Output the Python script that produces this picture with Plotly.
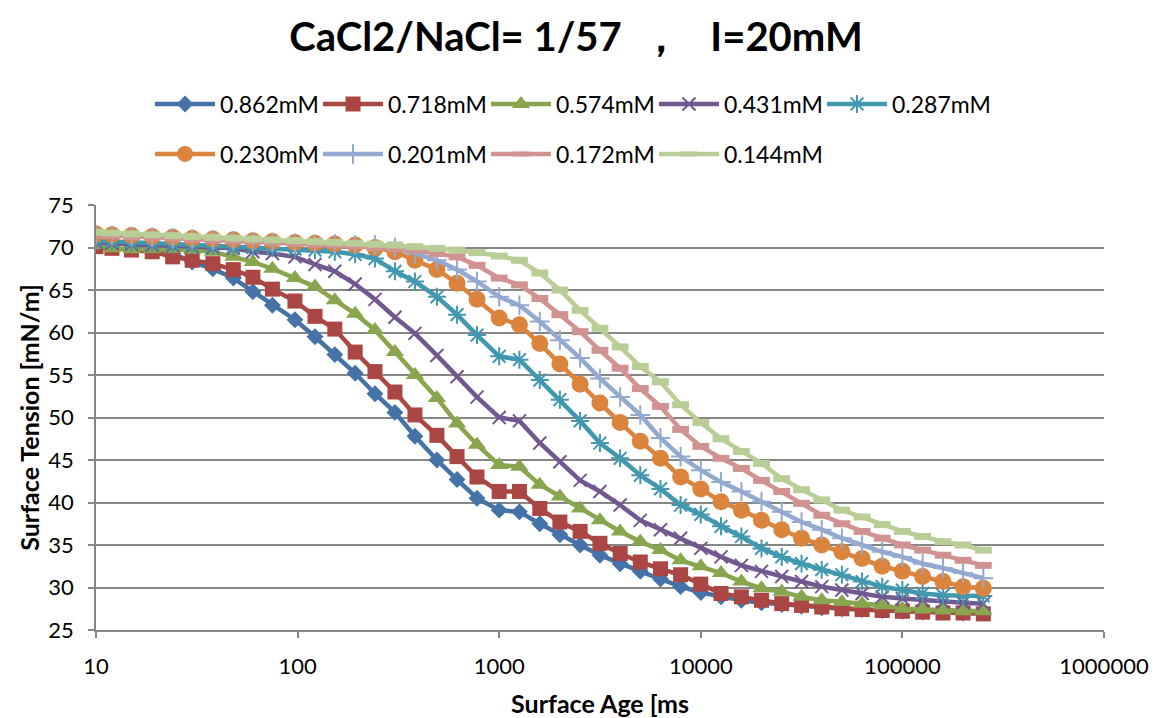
import plotly.graph_objects as go

# Surface age [ms], shared by all series
surface_age = [10, 12, 15, 19, 24, 30, 38, 48, 60, 75,
               97, 122, 153, 193, 242, 304, 382, 491, 618, 776,
               1000, 1260, 1590, 2000, 2520, 3160, 3980, 5010, 6310, 7940,
               10000, 12600, 15900, 20000, 25200, 31600, 39800, 50100, 63100, 79400,
               100000, 126000, 159000, 200000, 252000]

# Surface tension [mN/m] for each surfactant concentration
st_0862 = [70.8, 70.6, 70.4, 70.0, 69.3, 68.3, 67.5, 66.4, 64.8, 63.2,
           61.5, 59.5, 57.4, 55.2, 52.8, 50.6, 47.8, 45.0, 42.7, 40.5,
           39.1, 38.9, 37.5, 36.2, 35.0, 33.8, 32.8, 31.9, 31.0, 30.1,
           29.4, 28.9, 28.5, 28.2, 28.0, 27.8, 27.6, 27.5, 27.4, 27.3,
           27.2, 27.1, 27.1, 27.0, 27.0]
st_0718 = [70.1, 69.9, 69.7, 69.5, 68.9, 68.5, 68.1, 67.4, 66.5, 65.1,
           63.7, 61.9, 60.4, 57.7, 55.4, 53.0, 50.3, 47.9, 45.4, 43.0,
           41.3, 41.3, 39.3, 37.7, 36.6, 35.2, 34.0, 33.0, 32.2, 31.5,
           30.4, 29.3, 28.9, 28.5, 28.1, 27.9, 27.7, 27.5, 27.4, 27.3,
           27.2, 27.1, 27.0, 27.0, 26.9]
st_0574 = [70.3, 69.9, 69.8, 69.8, 69.8, 69.7, 69.5, 68.9, 68.3, 67.5,
           66.4, 65.4, 63.8, 62.2, 60.3, 57.7, 55.0, 52.3, 49.3, 46.8,
           44.4, 44.2, 42.1, 40.7, 39.3, 37.9, 36.6, 35.4, 34.4, 33.2,
           32.5, 31.7, 30.7, 29.9, 29.5, 28.9, 28.5, 28.3, 28.1, 27.9,
           27.5, 27.4, 27.3, 27.2, 27.2]
st_0431 = [70.6, 70.5, 70.4, 70.3, 70.2, 70.1, 70.0, 69.9, 69.5, 69.3,
           68.9, 68.0, 67.2, 65.7, 63.9, 61.8, 59.9, 57.3, 54.8, 52.4,
           50.0, 49.6, 47.0, 44.8, 42.6, 41.3, 39.7, 37.9, 36.8, 35.8,
           34.6, 33.6, 32.6, 31.9, 31.3, 30.7, 30.1, 29.7, 29.3, 28.9,
           28.7, 28.5, 28.3, 28.2, 28.1]
st_0287 = [70.8, 70.7, 70.6, 70.5, 70.4, 70.3, 70.2, 70.1, 70.0, 69.9,
           69.8, 69.7, 69.5, 69.2, 68.7, 67.2, 66.0, 64.2, 62.1, 59.7,
           57.2, 56.8, 54.4, 52.1, 49.6, 47.0, 45.2, 43.2, 41.6, 39.7,
           38.6, 37.2, 36.0, 34.6, 33.6, 32.8, 32.1, 31.5, 30.7, 30.1,
           29.7, 29.3, 29.1, 29.0, 29.0]
st_0230 = [71.6, 71.5, 71.4, 71.3, 71.2, 71.1, 71.0, 70.9, 70.8, 70.7,
           70.6, 70.5, 70.4, 70.3, 70.0, 69.5, 68.5, 67.4, 65.8, 63.9,
           61.7, 60.9, 58.7, 56.3, 53.9, 51.7, 49.4, 47.2, 45.2, 43.0,
           41.6, 40.1, 39.1, 37.9, 36.8, 35.8, 35.0, 34.2, 33.4, 32.5,
           31.9, 31.3, 30.7, 30.1, 29.9]
st_0201 = [71.5, 71.4, 71.3, 71.2, 71.1, 71.0, 70.9, 70.8, 70.7, 70.6,
           70.5, 70.4, 70.4, 70.3, 70.3, 70.0, 69.3, 68.5, 67.4, 66.0,
           64.2, 63.2, 61.3, 59.1, 57.0, 54.6, 52.4, 50.3, 47.6, 45.4,
           43.8, 42.4, 41.3, 40.1, 38.9, 37.7, 36.8, 35.8, 35.0, 34.2,
           33.6, 32.8, 32.3, 31.7, 31.1]
st_0172 = [71.5, 71.4, 71.3, 71.2, 71.1, 71.0, 70.9, 70.8, 70.7, 70.6,
           70.5, 70.4, 70.3, 70.2, 70.0, 69.9, 69.7, 69.3, 68.9, 67.9,
           66.4, 65.6, 64.0, 62.1, 60.1, 57.9, 55.8, 53.4, 51.3, 48.6,
           46.6, 45.2, 44.0, 42.6, 41.3, 39.9, 38.5, 37.5, 36.6, 35.8,
           35.0, 34.4, 33.8, 33.2, 32.6]
st_0144 = [71.8, 71.7, 71.6, 71.5, 71.4, 71.3, 71.2, 71.1, 71.0, 70.9,
           70.8, 70.7, 70.6, 70.5, 70.4, 70.3, 70.1, 69.9, 69.7, 69.4,
           69.0, 68.5, 67.0, 65.0, 62.6, 60.5, 58.3, 56.0, 54.2, 51.5,
           49.4, 47.5, 46.0, 44.6, 42.8, 41.5, 40.3, 39.1, 38.3, 37.4,
           36.6, 36.0, 35.4, 35.0, 34.4]

series_names = ["0.862mM", "0.718mM", "0.574mM", "0.431mM", "0.287mM",
                "0.230mM", "0.201mM", "0.172mM", "0.144mM"]
series_values = [st_0862, st_0718, st_0574, st_0431, st_0287,
                 st_0230, st_0201, st_0172, st_0144]

x_tick_values = [10, 100, 1000, 10000, 100000, 1000000]
x_tick_labels = ["10", "100", "1000", "10000", "100000", "1000000"]
y_tick_values = [25, 30, 35, 40, 45, 50, 55, 60, 65, 70, 75]

colors = ["#4572A7", "#AA4643", "#89A54E", "#71588F", "#4198AF",
          "#DB843D", "#93A9CF", "#D19392", "#B9CD96"]
# (symbol, size, outline width) per series
markers = [("diamond", 13, 0), ("square", 15, 0), ("triangle-up", 16, 0),
           ("x-thin", 13, 2), ("asterisk", 15, 2), ("circle", 17, 0),
           ("cross-thin", 14, 2), ("line-ew", 12, 7), ("line-ew", 12, 7)]

FONT = "Lato"

fig = go.Figure()
for i, (name, vals) in enumerate(zip(series_names, series_values)):
    sym, size, lw = markers[i]
    fig.add_trace(go.Scatter(
        x=surface_age, y=vals, name=name, mode="lines+markers",
        line=dict(color=colors[i], width=4.5),
        marker=dict(symbol=sym, size=size, color=colors[i],
                    line=dict(color=colors[i], width=lw)),
        legend="legend" if i < 5 else "legend2",
    ))

legend_style = dict(orientation="h", xref="container", yref="container",
                    x=150 / 1159, xanchor="left", yanchor="middle",
                    entrywidth=93, entrywidthmode="pixels", itemwidth=60,
                    font=dict(family=FONT, size=23, color="black"),
                    bgcolor="rgba(0,0,0,0)")

axis_grey = "#868686"
fig.update_layout(
    width=1159, height=718,
    margin=dict(l=96, r=55, t=205, b=88),
    paper_bgcolor="white", plot_bgcolor="white",
    font=dict(family=FONT, color="black", size=20),
    title=dict(text="<b>CaCl2/NaCl= 1/57 \u00a0\uff0c\u00a0\u00a0 I=20mM</b>",
               font=dict(family=FONT, size=40, color="black"),
               x=0.497, xanchor="center", xref="container",
               y=1 - 37 / 718, yanchor="middle", yref="container"),
    legend=dict(legend_style, y=1 - 104 / 718),
    legend2=dict(legend_style, y=1 - 154 / 718),
    xaxis=dict(type="log", range=[1, 6], automargin=False,
               tickvals=x_tick_values, ticktext=x_tick_labels,
               showgrid=False, showline=True, linecolor=axis_grey, linewidth=1.6,
               ticks="outside", ticklen=6, tickcolor=axis_grey, tickwidth=1.6,
               ticklabelstandoff=10,
               tickfont=dict(family=FONT, size=22, color="black"),
               title=dict(text="<b>Surface Age [ms</b>", standoff=24,
                          font=dict(family=FONT, size=25, color="black")),
               zeroline=False),
    yaxis=dict(range=[25, 75], tickvals=y_tick_values, automargin=False,
               showgrid=True, gridcolor=axis_grey, gridwidth=1.6,
               showline=True, linecolor=axis_grey, linewidth=1.6,
               ticks="outside", ticklen=6, tickcolor=axis_grey, tickwidth=1.6,
               ticklabelstandoff=10,
               tickfont=dict(family=FONT, size=22, color="black"),
               title=dict(text="<b>Surface Tension [mN/m]</b>", standoff=2,
                          font=dict(family=FONT, size=25, color="black")),
               zeroline=False),
)

fig.write_html("out.html")
